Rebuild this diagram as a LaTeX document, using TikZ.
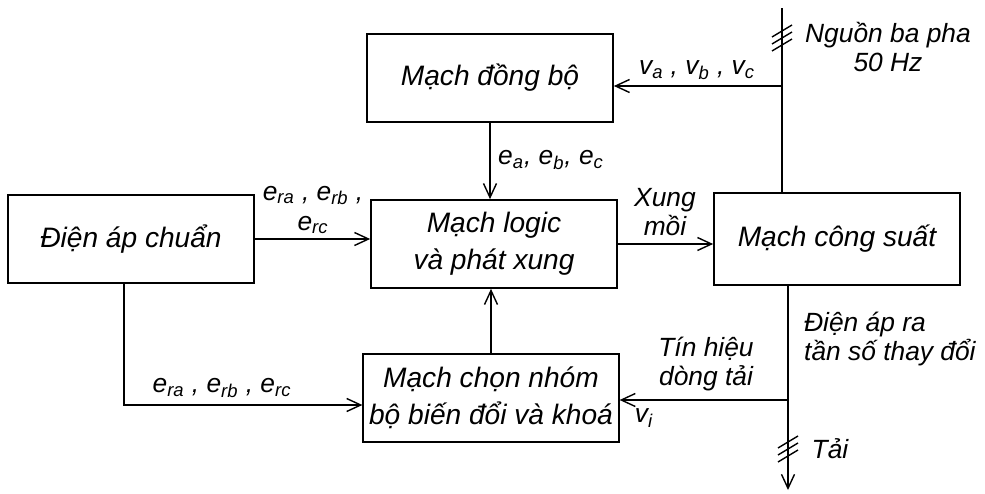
\documentclass[tikz,border=0pt]{standalone}
\usepackage{fontspec}
\setmainfont{Liberation Sans}
\usetikzlibrary{arrows.meta,calc}

\begin{document}
\begin{tikzpicture}[x=0.02cm,y=-0.02cm,
          every node/.style={font=\fontsize{15}{17}\selectfont\itshape},
          blk/.style={draw,line width=1pt,minimum width=4.92cm,minimum height=1.76cm,
            align=center,font=\fontsize{16}{21}\selectfont\itshape},
          ln/.style={line width=0.8pt},
          ar/.style={-{Straight Barb[length=2.8mm,width=2.6mm]},line width=0.8pt}]
        \useasboundingbox (0,0) rectangle (985,494);
        % khoi chinh
        \node[blk] (dongbo)   at (490,78)  {Mạch đồng bộ};
        \node[blk] (logic)    at (494,244) {Mạch logic\\và phát xung};
        \node[blk] (chuan)    at (131,239) {Điện áp chuẩn};
        \node[blk, minimum height=1.84cm]
                   (congsuat) at (837,239) {Mạch công suất};
        \node[blk] (chon)     at (491,398) {Mạch chọn nhóm\\bộ biến đổi và khoá};

        % diem phu
        \coordinate (src)  at (782,8);
        \coordinate (tapv) at (782,86);
        \coordinate (load) at (788,490);
        \coordinate (tapi) at (788,400);
        \coordinate (tapr) at (124,405);
        \coordinate (tk1)  at (782,38);
        \coordinate (tk2)  at (788,449);

        \draw[ln] (src) -- (src |- congsuat.north);
        \draw[ar] (tapv) -- (tapv -| dongbo.east);
        \draw[ar] (dongbo.south) -- (dongbo.south |- logic.north);
        \draw[ar] (chuan.east) -- (chuan.east -| logic.west);
        \draw[ar] (logic.east) -- (logic.east -| congsuat.west);
        \draw[ar] (chon.north) -- (chon.north |- logic.south);
        \draw[ar] (tapr |- chuan.south) -- (tapr) -- (tapr -| chon.west);
        \draw[ar] (load |- congsuat.south) -- (load);
        \draw[ar] (tapi) -- (tapi -| chon.east);
        \foreach \t in {tk1,tk2}
          \foreach \d in {-7,0,7}
            \draw[ln] ($(\t)+(-10,\d+6)$) -- ($(\t)+(10,\d-6)$);

        % nhan
        \node (vabc)    at (697,70)  {v\textsubscript{a} , v\textsubscript{b} , v\textsubscript{c}};
        \node[align=center] (nguon) at (888,47) {Nguồn ba pha\\50 Hz};
        \node[anchor=west] (eabc) at (492,160) {e\textsubscript{a}, e\textsubscript{b}, e\textsubscript{c}};
        \node[align=center] (xung) at (665,212) {Xung\\mồi};
        \node[align=center] (er1) at (313,210) {e\textsubscript{ra} , e\textsubscript{rb} ,\\e\textsubscript{rc}};
        \node (er2)     at (222,388) {e\textsubscript{ra} , e\textsubscript{rb} , e\textsubscript{rc}};
        \node[align=center] (tinhieu) at (706,364) {Tín hiệu\\dòng tải};
        \node (vi)      at (644,418) {v\textsubscript{i}};
        \node[align=left, anchor=west] (dienap) at (798,339) {Điện áp ra\\tần số thay đổi};
        \node (tai)     at (830,449) {Tải};
      \end{tikzpicture}
\end{document}
